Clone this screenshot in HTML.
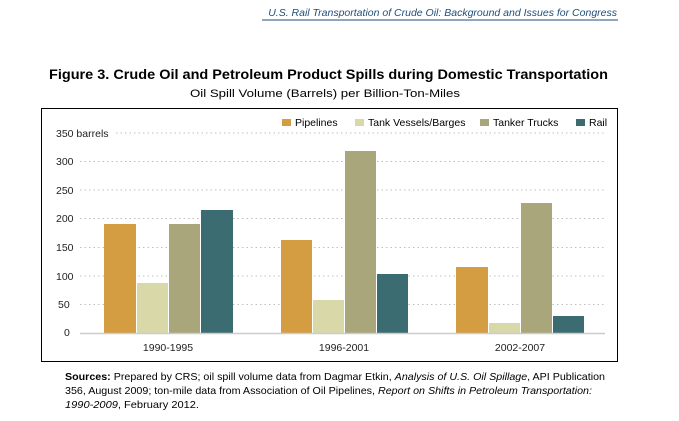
<!DOCTYPE html>
<html><head><meta charset="utf-8"><style>
body{margin:0;background:#fff;width:679px;height:416px;overflow:hidden;font-family:"Liberation Sans",sans-serif}
</style></head><body>
<svg width="679" height="416" xmlns="http://www.w3.org/2000/svg" font-family="Liberation Sans, sans-serif">
<text x="617" y="16" text-anchor="end" font-size="10.5" font-style="italic" fill="#1f4e79">U.S. Rail Transportation of Crude Oil: Background and Issues for Congress</text>
<line x1="262" y1="20" x2="618" y2="20" stroke="#1f4e79" stroke-width="1"/>
<text x="49" y="79" font-size="13.5" font-weight="bold" fill="#000" textLength="559" lengthAdjust="spacingAndGlyphs">Figure 3. Crude Oil and Petroleum Product Spills during Domestic Transportation</text>
<text x="190" y="97" font-size="11" fill="#000" textLength="270" lengthAdjust="spacingAndGlyphs">Oil Spill Volume (Barrels) per Billion-Ton-Miles</text>
<rect x="41.5" y="108.5" width="576" height="253" fill="none" stroke="#000" stroke-width="1"/>
<g font-size="10.5" fill="#000">
<rect x="282" y="119" width="9" height="7" fill="#D49D42"/><text x="295" y="126">Pipelines</text>
<rect x="355" y="119" width="9" height="7" fill="#D9D8A8"/><text x="368" y="126">Tank Vessels/Barges</text>
<rect x="480" y="119" width="9" height="7" fill="#A8A67A"/><text x="493" y="126">Tanker Trucks</text>
<rect x="576" y="119" width="9" height="7" fill="#3A6C72"/><text x="589" y="126">Rail</text>
</g>
<g stroke="#aaa" stroke-dasharray="1.5,3" stroke-width="0.8">
<line x1="116" y1="133" x2="605" y2="133"/>
<line x1="80" y1="161.5" x2="605" y2="161.5"/>
<line x1="80" y1="190" x2="605" y2="190"/>
<line x1="80" y1="218.5" x2="605" y2="218.5"/>
<line x1="80" y1="247.5" x2="605" y2="247.5"/>
<line x1="80" y1="276" x2="605" y2="276"/>
<line x1="80" y1="304.5" x2="605" y2="304.5"/>
</g>
<g font-size="10.5" fill="#222">
<text x="56" y="137">350 barrels</text>
<text x="56" y="165">300</text><text x="56" y="194">250</text><text x="56" y="222">200</text>
<text x="56" y="251">150</text><text x="56" y="280">100</text><text x="58" y="308">50</text><text x="64" y="336">0</text>
</g>
<g>
<rect x="104" y="224" width="32" height="109" fill="#D49D42"/>
<rect x="137" y="283" width="31" height="50" fill="#D9D8A8"/>
<rect x="169" y="224" width="31" height="109" fill="#A8A67A"/>
<rect x="201" y="210" width="32" height="123" fill="#3A6C72"/>
<rect x="281" y="240" width="31" height="93" fill="#D49D42"/>
<rect x="313" y="300" width="31" height="33" fill="#D9D8A8"/>
<rect x="345" y="151" width="31" height="182" fill="#A8A67A"/>
<rect x="377" y="274" width="31" height="59" fill="#3A6C72"/>
<rect x="456" y="267" width="32" height="66" fill="#D49D42"/>
<rect x="489" y="323" width="31" height="10" fill="#D9D8A8"/>
<rect x="521" y="203" width="31" height="130" fill="#A8A67A"/>
<rect x="553" y="316" width="31" height="17" fill="#3A6C72"/>
</g>
<line x1="80" y1="333.5" x2="605" y2="333.5" stroke="#ccc" stroke-width="1.5"/>
<g font-size="10.5" fill="#222" text-anchor="middle">
<text x="168" y="351">1990-1995</text><text x="344" y="351">1996-2001</text><text x="520" y="351">2002-2007</text>
</g>
<g font-size="10.5" fill="#000">
<text x="65" y="380" textLength="540" lengthAdjust="spacingAndGlyphs"><tspan font-weight="bold">Sources:</tspan> Prepared by CRS; oil spill volume data from Dagmar Etkin, <tspan font-style="italic">Analysis of U.S. Oil Spillage</tspan>, API Publication</text>
<text x="65" y="394" textLength="527" lengthAdjust="spacingAndGlyphs">356, August 2009; ton-mile data from Association of Oil Pipelines, <tspan font-style="italic">Report on Shifts in Petroleum Transportation:</tspan></text>
<text x="65" y="408" textLength="134" lengthAdjust="spacingAndGlyphs"><tspan font-style="italic">1990-2009</tspan>, February 2012.</text>
</g>
</svg>
</body></html>
